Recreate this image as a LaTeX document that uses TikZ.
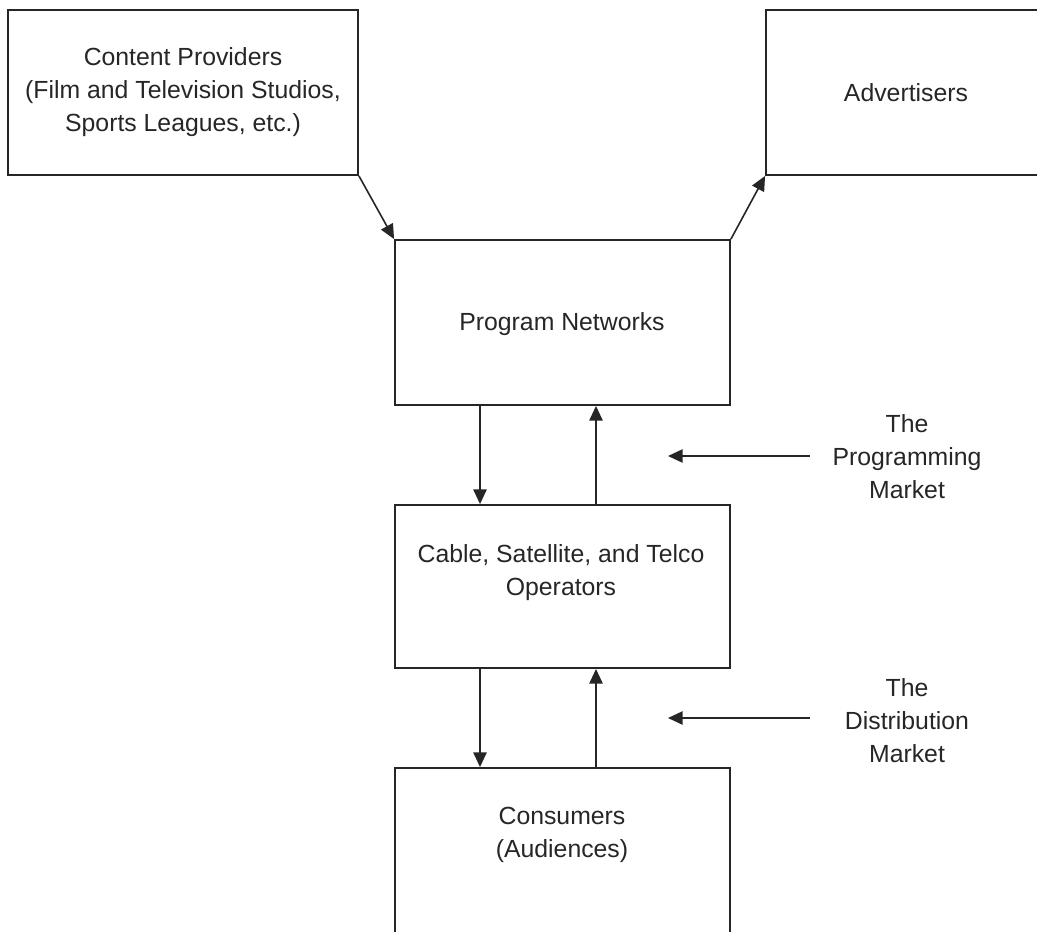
\documentclass[tikz,border=0pt]{standalone}
\usepackage{fontspec}
\setmainfont{Liberation Sans}
\usetikzlibrary{arrows.meta,calc}
\begin{document}
\begin{tikzpicture}[x=0.75pt,y=-0.75pt,
  box/.style={draw=black!85,line width=1.4pt,inner sep=0pt},
  lbl/.style={align=center,font=\fontsize{18.6}{24.75}\selectfont,text=black!85,inner sep=0pt},
  arr/.style={draw=black!85,line width=1.2pt,-{Triangle[length=11pt,width=10pt]}}]
\useasboundingbox (0,0) rectangle (1037,931);
\clip (0,0) rectangle (1037,931);
% boxes
\node[box,minimum width=350*0.75pt,minimum height=165*0.75pt] (cp) at (183,92.5) {};
\node[box,minimum width=280*0.75pt,minimum height=165*0.75pt] (adv) at (906,92.5) {};
\node[box,minimum width=335*0.75pt,minimum height=165*0.75pt] (pn) at (562.5,322.5) {};
\node[box,minimum width=335*0.75pt,minimum height=163*0.75pt] (cab) at (562.5,586.5) {};
\node[box,minimum width=335*0.75pt,minimum height=180*0.75pt] (con) at (562.5,858) {};
% texts
\node[lbl] (cpt) at (183,92) {Content Providers\\(Film and Television Studios,\\Sports Leagues, etc.)};
\node[lbl] (advt) at (906,93) {Advertisers};
\node[lbl] (pnt) at (562,324) {Program Networks};
\node[lbl] (cabt) at (561,573) {Cable, Satellite, and Telco\\Operators};
\node[lbl] (cont) at (562,835) {Consumers\\(Audiences)};
\node[lbl] (pm) at (907,457) {The\\Programming\\Market};
\node[lbl] (dm) at (907,721) {The\\Distribution\\Market};
% coordinates
\coordinate (xl) at (480,0);
\coordinate (xr) at (596,0);
\coordinate (pmtail) at (810,456);
\coordinate (pmtip) at (668,456);
\coordinate (dmtail) at (810,718);
\coordinate (dmtip) at (668,718);
% connectors
\draw[arr] (cp.south east) -- (pn.north west);
\draw[arr] (pn.north east) -- (adv.south west);
\draw[arr] (pn.south -| xl) -- (cab.north -| xl);
\draw[arr] (cab.north -| xr) -- (pn.south -| xr);
\draw[arr] (cab.south -| xl) -- (con.north -| xl);
\draw[arr] (con.north -| xr) -- (cab.south -| xr);
\draw[arr] (pmtail) -- (pmtip);
\draw[arr] (dmtail) -- (dmtip);
\end{tikzpicture}
\end{document}
